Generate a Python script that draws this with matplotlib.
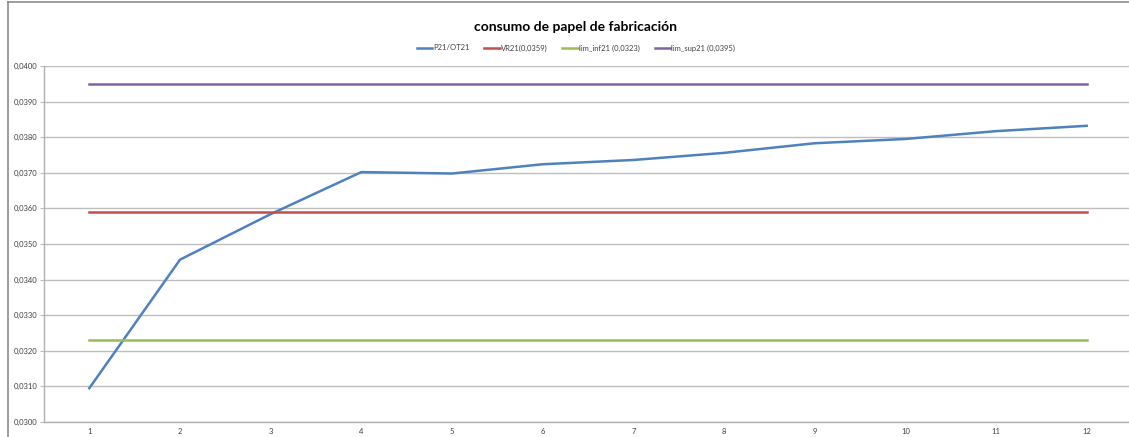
import numpy as np
import matplotlib
matplotlib.use('Agg')
import matplotlib.pyplot as plt
from matplotlib.ticker import FuncFormatter, MultipleLocator
from matplotlib.lines import Line2D

plt.rcParams['font.family'] = ['Lato', 'DejaVu Sans']

# data
months = np.arange(1, 13)
p21_ot21 = [0.03095, 0.03456, 0.03584, 0.03702, 0.03698, 0.03724,
            0.03736, 0.03756, 0.03783, 0.03795, 0.03817, 0.03832]
vr21 = 0.0359
lim_inf21 = 0.0323
lim_sup21 = 0.0395

W, H = 1129, 437
fig = plt.figure(figsize=(W / 100, H / 100), dpi=100)
ax = fig.add_axes([44 / W, 15 / H, (1132 - 44) / W, (422 - 66) / H])

ax.plot(months, p21_ot21, color='#4F81BD', lw=1.8, label='P21/OT21')
ax.plot(months, [vr21] * len(months), color='#C0504D', lw=1.8, label='VR21(0,0359)')
ax.plot(months, [lim_inf21] * len(months), color='#9BBB59', lw=1.8, label='lim_inf21 (0,0323)')
ax.plot(months, [lim_sup21] * len(months), color='#8064A2', lw=1.8, label='lim_sup21 (0,0395)')

ax.set_xlim(0.5, 12.5)
ax.set_ylim(0.0300, 0.0400)
ax.set_xticks(months)
ax.yaxis.set_major_locator(MultipleLocator(0.001))
ax.yaxis.set_major_formatter(FuncFormatter(lambda v, p: f"{v:.4f}".replace('.', ',')))
ax.grid(axis='y', color='#BEBEBE', lw=1.0)
ax.set_axisbelow(True)

for s in ['top', 'right']:
    ax.spines[s].set_visible(False)
for s in ['left', 'bottom']:
    ax.spines[s].set_color('#B0B0B0')
    ax.spines[s].set_linewidth(1.0)
ax.tick_params(axis='y', length=3, color='#BEBEBE', labelsize=5.5, labelcolor='#404040', pad=1.5)
ax.tick_params(axis='x', length=0, labelsize=5.5, labelcolor='#404040', pad=4.5)

fig.text(575 / W, 1 - 27 / H, 'consumo de papel de fabricación', ha='center', va='center',
         fontsize=10, fontweight='bold', color='#000000')
fig.legend(loc='center', bbox_to_anchor=(576 / W, 1 - 48 / H), ncol=4, frameon=False,
           fontsize=5.5, handlelength=2.0, columnspacing=1.9, handletextpad=0.2,
           labelcolor='#404040')

# chart border
fig.add_artist(Line2D([8 / W, 1], [1 - 1.5 / H, 1 - 1.5 / H], color='#8C8C8C', lw=1.2,
                      transform=fig.transFigure))
fig.add_artist(Line2D([8 / W, 8 / W], [0, 1 - 1.5 / H], color='#8C8C8C', lw=1.2,
                      transform=fig.transFigure))

fig.savefig('out.png', dpi=100)
